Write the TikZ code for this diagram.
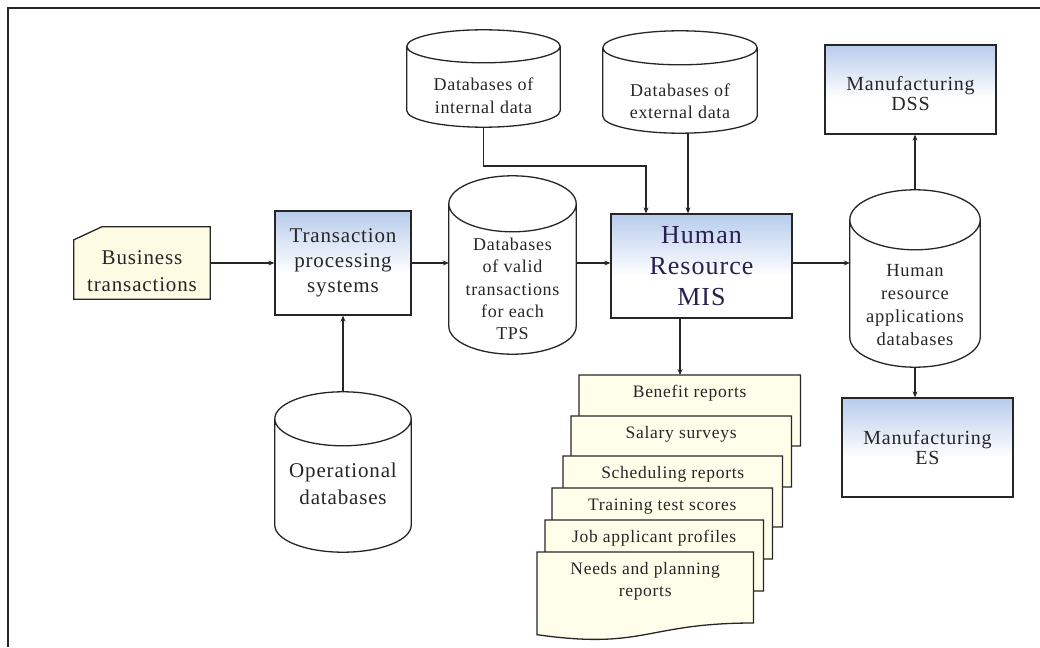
\documentclass[tikz,border=0pt]{standalone}
\usepackage{fontspec}
\setmainfont{Liberation Serif}[LetterSpace=4]
\usetikzlibrary{calc,arrows.meta}
\pgfdeclarelayer{background}
\pgfsetlayers{background,main}

\definecolor{boxblue}{RGB}{184,204,236}
\definecolor{ink}{RGB}{38,38,38}
\definecolor{headink}{RGB}{40,32,78}
\definecolor{paper}{RGB}{254,251,228}
\definecolor{docpaper}{RGB}{254,254,234}

% light blue at the top of a system box, fading to white below
\pgfdeclareverticalshading{boxfade}{100bp}{color(0bp)=(white); color(25bp)=(white);
  color(45bp)=(white); color(75bp)=(boxblue); color(100bp)=(boxblue)}

\newcommand\setfs[2]{\fontsize{#1pt}{#2pt}\selectfont}

% cylinder outline around a body node: #1 node, #2 ellipse y-radius,
% #3 distance from the cylinder top down to the top of the node
\newcommand\dbshape[3]{%
  \draw[line] let \p1=(#1.north west), \p2=(#1.south east), \n1={(\x2-\x1)/2} in
    (\x1,\y1+#3pt-#2pt) -- (\x1,\y2+#2pt)
      arc[start angle=180,end angle=360,x radius=\n1,y radius=#2pt]
      -- (\x2,\y1+#3pt-#2pt)
      arc[start angle=0,end angle=180,x radius=\n1,y radius=#2pt]
    (\x1,\y1+#3pt-#2pt)
      arc[start angle=180,end angle=360,x radius=\n1,y radius=#2pt];
  \coordinate (#1-top) at ($(#1.north)+(0,-#3)$);}

% report page with a wavy lower edge, hung from the top of node #1
\newcommand\docshape[1]{%
  \draw[line, fill=docpaper] (#1.north west) -- (#1.north east)
    -- ($(#1.north east)+(0,71)$)
    .. controls ($(#1.north)+(0,71)$) and ($(#1.north)+(0,98)$) .. ($(#1.north west)+(0,82.7)$)
    -- cycle;}

\tikzset{
  line/.style={draw=ink, line width=1.3pt},
  arr/.style={line, -{Stealth[length=6pt,width=5pt]}},
  sysbox/.style={line, shade, shading=boxfade, align=center, inner sep=0pt, text=ink},
  dbbody/.style={align=center, inner sep=0pt, text=ink},
  docnode/.style={anchor=north west, inner sep=0pt, text height=22pt, text depth=66.5pt,
    align=center, text=ink, font=\setfs{17.5}{22}},
  twoline/.style={text height=44pt, text depth=44.5pt},
}

\begin{document}
\begin{tikzpicture}[x=1pt,y=-1pt]
\useasboundingbox (0,0) rectangle (1040,647);

% page frame
\draw[ink, line width=2pt] (1040,8) -- (8,8) -- (8,647);

% input side
\node[minimum width=136pt, minimum height=72pt, inner sep=0pt] (bt) at (142,263) {};
\draw[line, fill=paper] ($(bt.north west)+(28,0)$) -- (bt.north east) -- (bt.south east)
  -- (bt.south west) -- ($(bt.north west)+(0,13)$) -- cycle;
\node[align=center, text=ink, font=\setfs{21}{27}] (bt-text) at ($(bt.center)+(0,8)$)
  {Business\\transactions};

\node[sysbox, minimum width=136pt, minimum height=104pt, font=\setfs{21}{25}] (tps) at (343,263)
  {Transaction\\processing\\systems};

\node[dbbody, minimum width=136pt, minimum height=136pt, font=\setfs{21}{27}] (opdb) at (343,484)
  {Operational\\databases};
\dbshape{opdb}{27}{24}

\node[dbbody, minimum width=127pt, minimum height=130pt, font=\setfs{18}{22.2}] (valid) at (512.5,289)
  {Databases\\of valid\\transactions\\for each\\TPS};
\dbshape{valid}{28}{48}

\node[dbbody, minimum width=153pt, minimum height=62pt, font=\setfs{18}{22.5}] (intdb) at (483.5,96)
  {Databases of\\internal data};
\dbshape{intdb}{16.5}{35}

\node[dbbody, minimum width=154pt, minimum height=63pt, font=\setfs{18}{22.5}] (extdb) at (680,101.5)
  {Databases of\\external data};
\dbshape{extdb}{17}{39}

% the MIS and its outputs
\node[sysbox, minimum width=181pt, minimum height=104pt, text=headink, font=\setfs{26}{31}] (mis) at (701.5,266)
  {Human\\Resource\\MIS};

\node[dbbody, minimum width=130pt, minimum height=124pt, font=\setfs{18.5}{23.3}] (hrdb) at (915,305)
  {Human\\resource\\applications\\databases};
\dbshape{hrdb}{30}{53}

\node[sysbox, minimum width=171pt, minimum height=89pt, text height=43pt, text depth=0pt,
  font=\setfs{20}{20}] (dss) at (910.5,89.5) {Manufacturing\\DSS};
\node[sysbox, minimum width=171pt, minimum height=99pt, font=\setfs{20}{20}] (es) at (927.5,447.5)
  {Manufacturing\\ES};

% stacked reports
\node[docnode, minimum width=221pt] (ben) at (579,375) {Benefit reports};
\node[docnode, minimum width=220pt] (sal) at (571,416) {Salary surveys};
\node[docnode, minimum width=219pt] (sch) at (563,456) {Scheduling reports};
\node[docnode, minimum width=220pt] (tra) at (552,488) {Training test scores};
\node[docnode, minimum width=218pt] (job) at (545,520) {Job applicant profiles};
\node[docnode, twoline, minimum width=216pt] (nee) at (537,552) {Needs and planning\\reports};
\begin{pgfonlayer}{background}
  \docshape{ben}\docshape{sal}\docshape{sch}\docshape{tra}\docshape{job}\docshape{nee}
\end{pgfonlayer}

% connectors
\draw[arr] (bt.east) -- (tps.west);
\draw[arr] (opdb-top) -- (tps.south);
\draw[arr] (tps.east) -- (tps.east -| valid.west);
\draw[arr] (valid.east |- tps.east) -- (mis.west |- tps.east);
\draw[arr] (mis.east |- tps.east) -- (hrdb.west |- tps.east);

\coordinate (intbend) at (646,166);
\draw[arr] (intdb.south) |- (intbend) -- (intbend |- mis.north);
\coordinate (extout) at ($(extdb.south)+(8,0)$);
\draw[arr] (extout) -- (extout |- mis.north);

\coordinate (misout) at ($(mis.south)+(-21.5,0)$);
\draw[arr] (misout) -- (misout |- ben.north);

\draw[arr] (hrdb-top) -- (hrdb-top |- dss.south);
\draw[arr] (hrdb.south) -- (hrdb.south |- es.north);
\end{tikzpicture}
\end{document}
